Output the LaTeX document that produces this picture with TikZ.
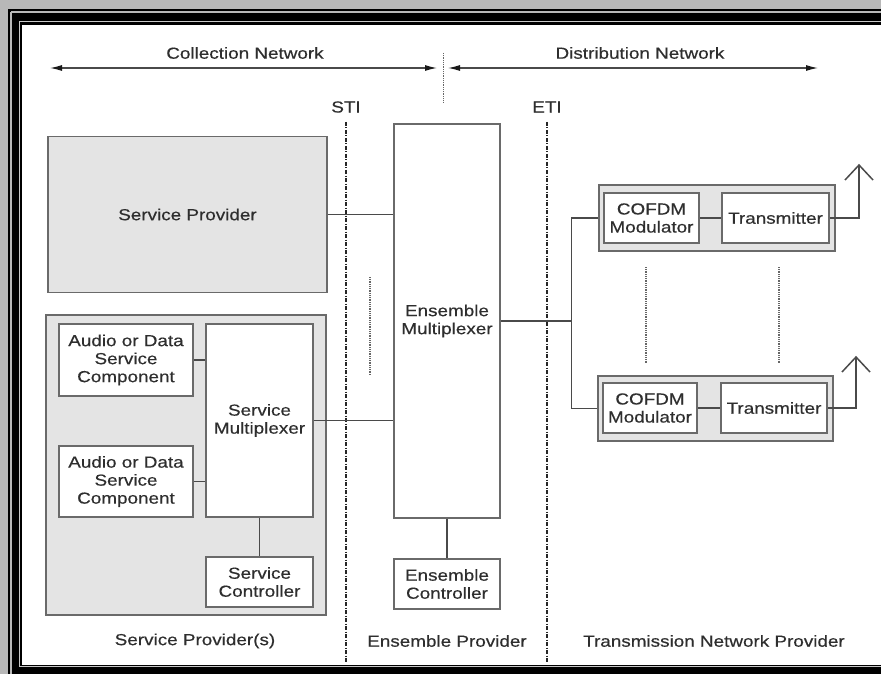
\documentclass[tikz,border=0pt]{standalone}
\usepackage{fontspec}
\setmainfont{Liberation Sans}[FakeStretch=1.18,FakeBold=0.4]
\usetikzlibrary{arrows.meta}
\definecolor{outbg}{HTML}{B8B8B8}
\definecolor{gapc}{HTML}{C8C8C8}
\definecolor{txt}{HTML}{2E2E2E}
\definecolor{boxc}{HTML}{6A6A6A}
\definecolor{linec}{HTML}{4A4A4A}
\definecolor{grpfill}{HTML}{E4E4E4}
\begin{document}
\begin{tikzpicture}[x=1pt,y=-1pt,
  lbl/.style={text=txt,font=\fontsize{16pt}{18pt}\selectfont,inner sep=0,align=center},
  blk/.style={draw=boxc,line width=1.5pt,fill=white,inner sep=0,align=center,text=txt,font=\fontsize{16pt}{18pt}\selectfont},
  grp/.style={blk,fill=grpfill},
  conn/.style={draw=linec,line width=1.5pt},
  iface/.style={draw=black!85,line width=1.2pt,dash pattern=on 4pt off 1.5pt on 1pt off 1.5pt},
  dotv/.style={draw=black!60,line width=1.2pt,dash pattern=on 1pt off 0.8pt},
  span/.style={draw=linec,line width=1.2pt,{Latex[length=12pt,width=6pt,color=black!90]}-{Latex[length=12pt,width=6pt,color=black!90]}}
]
\useasboundingbox (0,0) rectangle (881,674);
\clip (0,0) rectangle (881,674);
% frame
\fill[outbg] (0,0) rectangle (881,674);
\fill[black] (8,9) rectangle (881,674);
\draw[outbg,line width=2pt] (11,12) -- (881,12);
\draw[outbg,line width=2pt] (11,12) -- (11,674);
\draw[gapc,line width=1.2pt] (881,21.5) -- (19.5,21.5) -- (19.5,666.5) -- (881,666.5);
\fill[white] (22,25) rectangle (881,664.5);

% top spans
\node[lbl] (cn) at (245,53) {Collection Network};
\node[lbl] (dn) at (640,53) {Distribution Network};
\coordinate (cnL) at (50,68);
\coordinate (cnR) at (437,68);
\coordinate (dnL) at (448,68);
\coordinate (dnR) at (818,68);
\draw[span] (cnL) -- (cnR);
\draw[span] (dnL) -- (dnR);
\coordinate (sepT) at (443.5,53);
\coordinate (sepB) at (443.5,102);
\draw[dotv] (sepT) -- (sepB);

% interfaces
\node[lbl] (sti) at (346,107) {STI};
\node[lbl] (eti) at (547,107) {ETI};
\coordinate (stiT) at (346,122);
\coordinate (stiB) at (346,662);
\coordinate (etiT) at (547,122);
\coordinate (etiB) at (547,662);
\draw[iface] (stiT) -- (stiB);
\draw[iface] (etiT) -- (etiB);

% service provider side
\node[grp,minimum width=279pt,minimum height=156pt] (sp) at (187.5,214.5) {Service Provider};
\node[grp,minimum width=280pt,minimum height=300pt] (spg) at (186,465) {};
\node[blk,minimum width=134pt,minimum height=72pt] (ad1) at (126,360) {Audio or Data\\Service\\Component};
\node[blk,minimum width=134pt,minimum height=71pt] (ad2) at (126,481.5) {Audio or Data\\Service\\Component};
\node[blk,minimum width=107pt,minimum height=193pt] (sm) at (259.5,420.5) {Service\\Multiplexer};
\node[blk,minimum width=107pt,minimum height=50pt] (sc) at (259.5,582) {Service\\Controller};
\node[lbl] (spl) at (195,641) {Service Provider(s)};

% ensemble provider
\node[blk,minimum width=106pt,minimum height=394pt] (em) at (447,321) {Ensemble\\Multiplexer};
\node[blk,minimum width=106pt,minimum height=50pt] (ec) at (447,584) {Ensemble\\Controller};
\node[lbl] (epl) at (447,641) {Ensemble Provider};

% transmission
\node[grp,minimum width=236pt,minimum height=66pt] (tg1) at (717,218) {};
\node[blk,minimum width=95pt,minimum height=50pt] (cm1) at (651.5,218) {COFDM\\Modulator};
\node[blk,minimum width=107pt,minimum height=50pt] (tx1) at (775.5,218) {Transmitter};
\node[grp,minimum width=235pt,minimum height=65pt] (tg2) at (715.5,408.5) {};
\node[blk,minimum width=94pt,minimum height=50pt] (cm2) at (650,408) {COFDM\\Modulator};
\node[blk,minimum width=106pt,minimum height=50pt] (tx2) at (774,408) {Transmitter};
\node[lbl] (tnl) at (714,641) {Transmission Network Provider};

% connectors
\draw[conn] (sp.east) -- (sp.east -| em.west);
\draw[conn] (sm.east) -- (sm.east -| em.west);
\draw[conn] (ad1.east) -- (ad1.east -| sm.west);
\draw[conn] (ad2.east) -- (ad2.east -| sm.west);
\draw[conn] (sm.south) -- (sc.north);
\draw[conn] (em.south) -- (ec.north);
\coordinate (bx) at (571.5,0);
\draw[conn] (em.east) -- (em.east -| bx);
\draw[conn] (tg1.west) -- (tg1.west -| bx) -- (tg2.west -| bx) -- (tg2.west);
\draw[conn] (cm1.east) -- (tx1.west);
\draw[conn] (cm2.east) -- (tx2.west);

% antennas
\coordinate (a1) at (859,165);
\coordinate (a2) at (856,357);
\draw[conn] (tx1.east) -| (a1);
\draw[conn] (a1) ++(-14,15) -- (a1) -- ++(14,15);
\draw[conn] (tx2.east) -| (a2);
\draw[conn] (a2) ++(-14,15) -- (a2) -- ++(14,15);

% dotted continuation marks
\coordinate (d1T) at (370,277);
\coordinate (d1B) at (370,375);
\coordinate (d2T) at (646,267);
\coordinate (d2B) at (646,363);
\coordinate (d3T) at (779,267);
\coordinate (d3B) at (779,363);
\draw[dotv] (d1T) -- (d1B);
\draw[dotv] (d2T) -- (d2B);
\draw[dotv] (d3T) -- (d3B);
\end{tikzpicture}
\end{document}
